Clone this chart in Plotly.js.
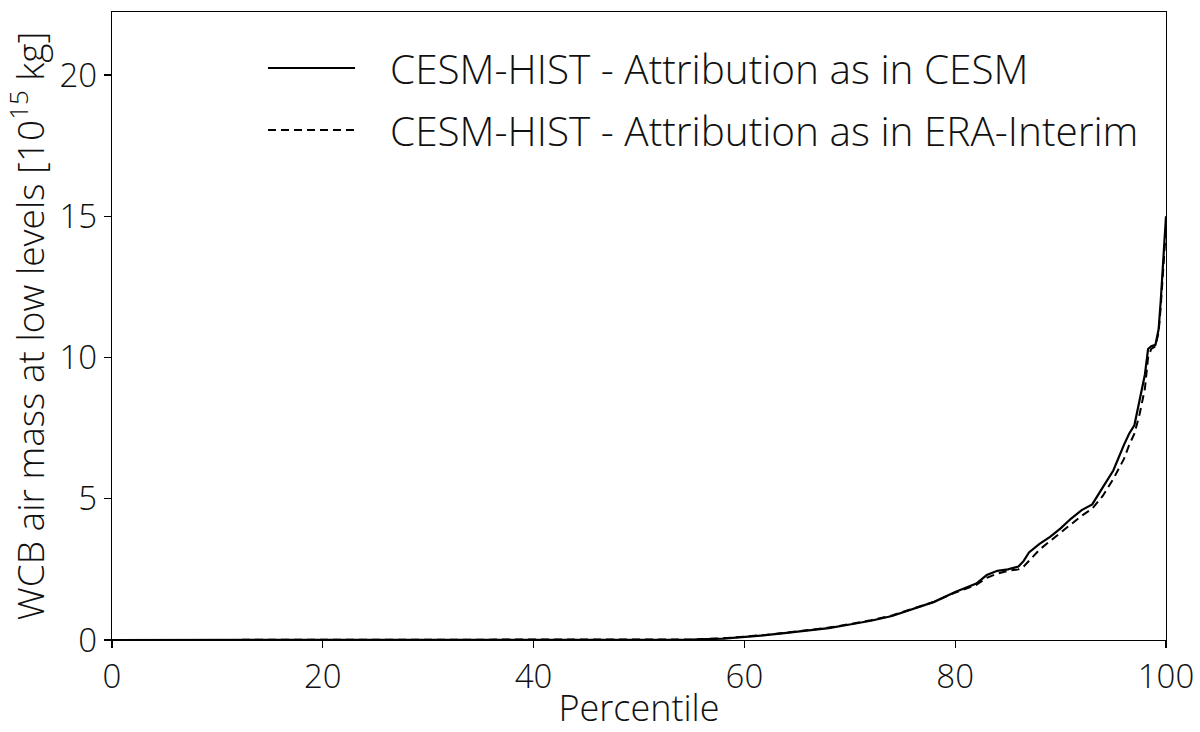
<!DOCTYPE html>
<html>
<head>
<meta charset="utf-8">
<script src="https://cdn.plot.ly/plotly-3.0.1.min.js"></script>
<style>html,body{margin:0;padding:0;background:#fff;}#chart{width:1200px;height:732px;}</style>
</head>
<body>
<div id="chart"></div>
<script>
const percentile = [0, 50, 55, 58, 60, 62, 64, 66, 68, 70, 72, 74, 76, 78, 80, 82, 83, 84, 85, 86, 86.5, 87, 88, 89, 90, 91, 92, 93, 94, 95, 96, 96.5, 97, 97.5, 98, 98.3, 98.6, 99, 99.3, 99.5, 99.7, 99.85, 100];
const attribCESM = [0, 0, 0.01, 0.05, 0.1, 0.17, 0.25, 0.33, 0.42, 0.55, 0.68, 0.85, 1.1, 1.35, 1.7, 2.0, 2.3, 2.45, 2.5, 2.6, 2.8, 3.1, 3.4, 3.65, 3.95, 4.3, 4.6, 4.8, 5.4, 6.0, 6.9, 7.3, 7.6, 8.5, 9.4, 10.3, 10.4, 10.45, 11.0, 12.0, 13.2, 14.2, 15.0];
const attribERA = [0, 0, 0.02, 0.06, 0.11, 0.18, 0.26, 0.34, 0.44, 0.56, 0.7, 0.87, 1.1, 1.35, 1.68, 1.95, 2.2, 2.35, 2.45, 2.5, 2.6, 2.8, 3.2, 3.5, 3.8, 4.1, 4.4, 4.65, 5.1, 5.7, 6.4, 6.9, 7.3, 8.0, 8.9, 10.0, 10.3, 10.4, 10.9, 11.8, 13.0, 14.0, 14.6];
const seriesNames = ["CESM-HIST - Attribution as in CESM", "CESM-HIST - Attribution as in ERA-Interim"];
const xTicks = [0, 20, 40, 60, 80, 100];
const yTicks = [0, 5, 10, 15, 20];

const FONT = "Open Sans, Lato, sans-serif";
const traces = [
  {x: percentile, y: attribCESM, name: seriesNames[0], mode: "lines", line: {color: "#000", width: 2.2}, showlegend: false},
  {x: percentile, y: attribERA, name: seriesNames[1], mode: "lines", line: {color: "#000", width: 2, dash: "8px,5px"}, showlegend: false}
];
const legendRows = [0.9108, 0.8121];
const shapes = legendRows.map((yy, i) => ({
  type: "line", xref: "paper", yref: "paper", x0: 0.148, x1: 0.2306, y0: yy, y1: yy,
  line: {color: "#000", width: 2, dash: i === 0 ? "solid" : "8px,5px"}
}));
const annotations = legendRows.map((yy, i) => ({
  xref: "paper", yref: "paper", x: 0.2619, y: yy, xanchor: "left", yanchor: "middle",
  text: seriesNames[i], showarrow: false, font: {family: FONT, size: 40.5, weight: 300, color: "#111"}
}));
const layout = {
  width: 1200, height: 732,
  margin: {l: 112, r: 34, t: 12, b: 92},
  paper_bgcolor: "#fff", plot_bgcolor: "#fff",
  font: {family: FONT, color: "#111"},
  xaxis: {range: [0, 100], tickvals: xTicks, ticktext: xTicks.map(String), ticks: "outside", ticklen: 7, tickwidth: 1.2,
    tickcolor: "#000", showline: true, linecolor: "#000", linewidth: 1.2, mirror: true, showgrid: false, zeroline: false,
    tickfont: {size: 33, family: FONT, weight: 300}, title: {text: "Percentile", font: {size: 36, family: FONT, weight: 300}, standoff: 12}},
  yaxis: {range: [0, 22.23], tickvals: yTicks, ticktext: yTicks.map(String), ticks: "outside", ticklen: 7, tickwidth: 1.2,
    tickcolor: "#000", showline: true, linecolor: "#000", linewidth: 1.2, mirror: true, showgrid: false, zeroline: false,
    tickfont: {size: 33, family: FONT, weight: 300}, title: {text: "WCB air mass at low levels [10<sup>15</sup> kg]", font: {size: 37, family: FONT, weight: 300}, standoff: 4}},
  shapes: shapes, annotations: annotations
};
Plotly.newPlot("chart", traces, layout, {displayModeBar: false, staticPlot: true});
</script>
</body>
</html>
